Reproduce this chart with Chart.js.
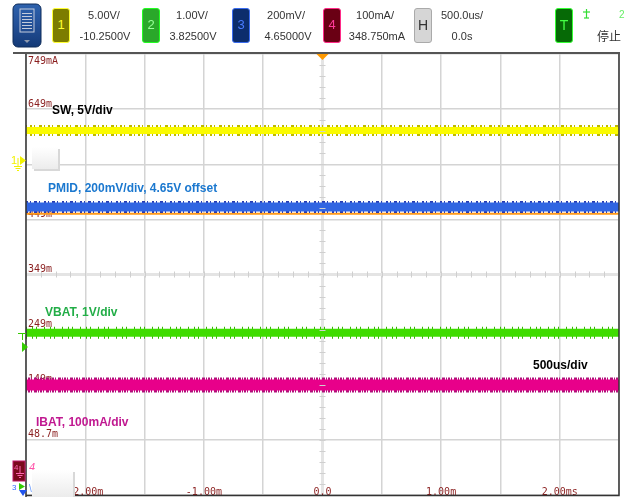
<!DOCTYPE html>
<html><head><meta charset="utf-8">
<script src="https://cdn.jsdelivr.net/npm/chart.js@4"></script>
<style>
body{margin:0;background:#fff;}
#wrap{position:relative;width:632px;height:497px;overflow:hidden;font-family:"Liberation Sans",Arial,sans-serif;background:#fff;}
canvas{position:absolute;left:0;top:0;}
svg{position:absolute;left:0;top:0;}
.hdr{position:absolute;width:80px;font-size:11px;line-height:14px;color:#333;text-align:center;white-space:nowrap;}
.chbox{position:absolute;top:8px;width:18px;height:35px;border-radius:3px;box-sizing:border-box;border:1.5px solid;font-size:13px;text-align:center;line-height:32px;}
.lbl{position:absolute;font-weight:bold;font-size:12px;line-height:14px;white-space:nowrap;}
.wbox{position:absolute;background:linear-gradient(#ffffff,#ececec);box-shadow:2px 2px 0 #d8d8d8;}
</style></head>
<body><div id="wrap">
<canvas id="c" width="632" height="497"></canvas>

<svg width="632" height="497">
  <defs>
    <linearGradient id="bg1" x1="0" y1="0" x2="0" y2="1">
      <stop offset="0" stop-color="#2e62ad"/><stop offset="0.5" stop-color="#234f96"/><stop offset="1" stop-color="#143a77"/>
    </linearGradient>
  </defs>
  <rect x="13" y="4" width="28" height="43" rx="5" fill="url(#bg1)" stroke="#0f2c5a"/>
  <rect x="20" y="9" width="14" height="23" fill="none" stroke="#c3cbdb" stroke-width="1"/>
  <g stroke="#c3cbdb" stroke-width="1">
    <line x1="22" y1="13.5" x2="32" y2="13.5"/><line x1="22" y1="16.5" x2="32" y2="16.5"/>
    <line x1="22" y1="19.5" x2="32" y2="19.5"/><line x1="22" y1="22.5" x2="32" y2="22.5"/>
    <line x1="22" y1="25.5" x2="32" y2="25.5"/><line x1="22" y1="28.5" x2="32" y2="28.5"/>
  </g>
  <polygon points="24,40 30,40 27,43" fill="#8f9aae"/>
  <!-- header separator -->
  <line x1="13" y1="53" x2="620" y2="53" stroke="#555" stroke-width="2"/>
  <!-- trigger type icon -->
  <g stroke="#33dd33" stroke-width="1.2" fill="none">
    <line x1="583" y1="12" x2="590" y2="12"/><line x1="586.5" y1="9" x2="586.5" y2="18"/><line x1="584" y1="18" x2="589" y2="18"/>
  </g>
  <text x="619" y="18" font-size="10" fill="#66ee66" font-family="Liberation Sans">2</text>
  <!-- ch1 ground marker -->
  <text x="11" y="164" font-size="11" fill="#f2f200" font-family="Liberation Sans">1</text>
  <g stroke="#f2f200" stroke-width="1">
    <line x1="18" y1="158" x2="18" y2="166"/><line x1="14" y1="166.5" x2="22" y2="166.5"/><line x1="15.5" y1="168.5" x2="20.5" y2="168.5"/><line x1="17" y1="170.5" x2="19" y2="170.5"/>
  </g>
  <polygon points="20,156 26,160.5 20,165" fill="#f2f200"/>
  <!-- trigger level marker -->
  <g stroke="#33cc00" stroke-width="1"><line x1="18" y1="333.5" x2="26" y2="333.5"/><line x1="22.5" y1="333" x2="22.5" y2="340"/></g>
  <polygon points="22,342 28,347 22,352" fill="#33cc00"/>
  <!-- ch4 ground marker -->
  <rect x="13" y="461" width="12" height="20" fill="#7a0a1c" stroke="#c0186a" stroke-width="1"/>
  <text x="14" y="470" font-size="8" fill="#ff66b0" font-family="Liberation Sans">4</text>
  <g stroke="#ff66b0" stroke-width="1"><line x1="20" y1="466" x2="20" y2="473"/><line x1="16" y1="473.5" x2="24" y2="473.5"/><line x1="17.5" y1="475.5" x2="22.5" y2="475.5"/><line x1="19" y1="477.5" x2="21" y2="477.5"/></g>
  <text x="29" y="471" font-size="11" font-style="italic" fill="#ff55aa" font-family="Liberation Sans">4</text>
  <!-- ch3 / ch2 markers bottom -->
  <text x="12" y="490" font-size="8" fill="#3366ff" font-family="Liberation Sans">3</text>
  <polygon points="19,483 25,486.5 19,490" fill="#33cc00"/>
  <polygon points="19,490 27,490 23,496" fill="#2255ee"/>
  <text x="29" y="492" font-size="10" fill="#6699ff" font-family="Liberation Sans">\</text>
</svg>

<!-- header channel boxes -->
<div class="chbox" style="left:52px;background:#7d7d00;border-color:#ffff33;color:#ffff33;">1</div>
<div class="hdr" style="left:64px;top:8px;">5.00V/</div>
<div class="hdr" style="left:65px;top:29px;">-10.2500V</div>
<div class="chbox" style="left:142px;background:#2aa82a;border-color:#22ff22;color:#99ff99;">2</div>
<div class="hdr" style="left:152px;top:8px;">1.00V/</div>
<div class="hdr" style="left:153px;top:29px;">3.82500V</div>
<div class="chbox" style="left:232px;background:#0c2d6c;border-color:#3a6cf0;color:#4a7cff;">3</div>
<div class="hdr" style="left:246px;top:8px;">200mV/</div>
<div class="hdr" style="left:248px;top:29px;">4.65000V</div>
<div class="chbox" style="left:323px;background:#6a0014;border-color:#ff2a88;color:#ff3a99;">4</div>
<div class="hdr" style="left:335px;top:8px;">100mA/</div>
<div class="hdr" style="left:337px;top:29px;">348.750mA</div>
<div class="chbox" style="left:414px;background:#d6d6d6;border-color:#aaaaaa;color:#333;font-size:14px;">H</div>
<div class="hdr" style="left:422px;top:8px;">500.0us/</div>
<div class="hdr" style="left:422px;top:29px;">0.0s</div>
<div class="chbox" style="left:555px;background:#066a06;border-color:#33ff33;color:#44ff44;font-size:14px;">T</div>
<div class="hdr" style="left:597px;top:29px;width:40px;text-align:left;font-family:'Noto Sans CJK SC';font-size:12px;">停止</div>

<!-- overlay boxes -->
<div class="wbox" style="left:32px;top:147px;width:26px;height:22px;"></div>
<div class="wbox" style="left:32px;top:470px;width:41px;height:27px;"></div>

<!-- trace annotations -->
<div class="lbl" style="left:52px;top:103px;color:#000;">SW, 5V/div</div>
<div class="lbl" style="left:48px;top:181px;color:#1b78cf;">PMID, 200mV/div, 4.65V offset</div>
<div class="lbl" style="left:45px;top:305px;color:#22ad47;">VBAT, 1V/div</div>
<div class="lbl" style="left:533px;top:358px;color:#000;">500us/div</div>
<div class="lbl" style="left:36px;top:415px;color:#c01890;">IBAT, 100mA/div</div>
</div>

<script>
// ---- data ----
const timeMs   = [-2.5, 2.5];          // full 10-division window, 500 us/div
const swV      = [2.82, 2.82];          // SW node, volts
const pmidV    = [4.895, 4.895];        // PMID, volts
const refDiv   = [1.10, 1.10];          // orange reference trace, divisions
const vbatV    = [2.77, 2.77];          // VBAT, volts
const ibatMA   = [148.3, 148.3];        // IBAT, mA
const chScale  = {sw: 5, pmid: 0.2, vbat: 1, ibat: 100};        // units per division
const chOffset = {sw: -10.25, pmid: 4.65, vbat: 3.825, ibat: 348.75};
const xTickValues = [-2, -1, 0, 1, 2];
const xTickLabels = ['-2.00m', '-1.00m', '0.0', '1.00m', '2.00ms'];
const yTickValues = [3, 1, 0, -1, -2, -3];
const yTickLabels = ['649m', '449m', '349m', '249m', '149m', '48.7m'];
const yTopLabel   = '749mA';

const toDiv = (arr, ch) => arr.map(v => (v - chOffset[ch]) / chScale[ch]);
const pts = ys => timeMs.map((t, i) => ({x: t, y: ys[i]}));

function band(ys, core, fringe, w, fw, dash, ord) {
  return [
    {data: pts(ys), borderColor: core, borderWidth: w, order: ord, pointRadius: 0, borderCapStyle: 'butt'},
    {data: pts(ys), borderColor: fringe, borderWidth: fw, order: ord + 1, pointRadius: 0, borderDash: dash, borderCapStyle: 'butt'}
  ];
}

const datasets = [
  ...band(toDiv(swV, 'sw'), '#fbfb00', '#bdb900', 7, 11, [1,3,2,2,1,4,3,2], 1),
  ...band(toDiv(pmidV, 'pmid'), '#3165e2', '#2a3cb0', 9, 12, [2,2,1,3,3,2,1,4], 3),
  {data: pts(refDiv), borderColor: '#ff9a1a', borderWidth: 2, order: 5, pointRadius: 0},
  ...band(toDiv(vbatV, 'vbat'), '#3fdc00', '#34b800', 8, 12, [1,5,1,3,1,7], 6),
  ...band(toDiv(ibatMA, 'ibat'), '#e8008a', '#b0107a', 11, 15, [1,1,2,1,1,2,3,1], 8)
];

const frame = {
  id: 'frame',
  afterDraw(chart) {
    const {ctx, chartArea: a, scales: {x, y}} = chart;
    ctx.save();
    // centre-axis minor ticks
    ctx.strokeStyle = '#cfcfcf'; ctx.lineWidth = 1;
    const yc = y.getPixelForValue(0), xc = x.getPixelForValue(0);
    for (let t = -2.5; t <= 2.5001; t += 0.125) {
      const px = Math.round(x.getPixelForValue(t)) + 0.5;
      ctx.beginPath(); ctx.moveTo(px, yc - 3); ctx.lineTo(px, yc + 3); ctx.stroke();
    }
    for (let v = -4; v <= 4.0001; v += 0.2) {
      const py = Math.round(y.getPixelForValue(v)) + 0.5;
      ctx.beginPath(); ctx.moveTo(xc - 3, py); ctx.lineTo(xc + 3, py); ctx.stroke();
    }
    // border
    ctx.strokeStyle = '#333'; ctx.lineWidth = 1.5;
    ctx.beginPath();
    ctx.moveTo(a.left, a.top); ctx.lineTo(a.left, 497);
    ctx.moveTo(a.left, a.bottom + 0.5); ctx.lineTo(a.right, a.bottom + 0.5); ctx.lineTo(a.right, a.top - 2);
    ctx.stroke();
    // trigger position marker
    ctx.fillStyle = '#ff9900';
    ctx.beginPath(); ctx.moveTo(xc - 6, a.top); ctx.lineTo(xc + 6, a.top); ctx.lineTo(xc, a.top + 6); ctx.closePath(); ctx.fill();
    ctx.restore();
  }
};

const tickFont = {family: 'DejaVu Sans Mono', size: 10};
const tickColor = '#8a1e1e';
const gridColor = c => Math.abs(c.tick.value) < 1e-9 ? '#e4e4e4' : '#d4d4d4';
const gridWidth = c => Math.abs(c.tick.value) < 1e-9 ? 3 : 1.5;
const flatFit = s => { s.width = 0; s.paddingTop = 0; s.paddingBottom = 0; };

new Chart(document.getElementById('c'), {
  type: 'line',
  data: {datasets},
  options: {
    responsive: false, animation: false, events: [],
    layout: {padding: {left: 26, right: 13, top: 54, bottom: 2}},
    plugins: {legend: {display: false}, tooltip: {enabled: false}},
    scales: {
      x: {
        type: 'linear', min: -2.5, max: 2.5, position: {y: -4},
        border: {display: false},
        grid: {drawTicks: false, color: gridColor, lineWidth: gridWidth},
        ticks: {stepSize: 0.5, autoSkip: false, maxRotation: 0, padding: -9, font: tickFont, color: tickColor,
                callback: v => { const i = xTickValues.findIndex(t => Math.abs(t - v) < 1e-9); return i >= 0 ? xTickLabels[i] : ''; }}
      },
      y: {
        type: 'linear', min: -4, max: 4, position: 'left',
        afterFit: flatFit,
        border: {display: false},
        grid: {drawTicks: false, color: gridColor, lineWidth: gridWidth},
        ticks: {stepSize: 1, autoSkip: false, mirror: true, padding: 2, labelOffset: -5, font: tickFont, color: tickColor,
                callback: v => { const i = yTickValues.indexOf(v); return i >= 0 ? yTickLabels[i] : ''; }}
      },
      y2: {
        type: 'linear', min: -4, max: 4, position: 'left',
        afterFit: flatFit,
        border: {display: false},
        grid: {display: false, drawTicks: false},
        ticks: {stepSize: 1, autoSkip: false, mirror: true, padding: 2, labelOffset: 7, font: tickFont, color: tickColor,
                callback: v => v === 4 ? yTopLabel : ''}
      }
    }
  },
  plugins: [frame]
});
</script>
</body></html>
